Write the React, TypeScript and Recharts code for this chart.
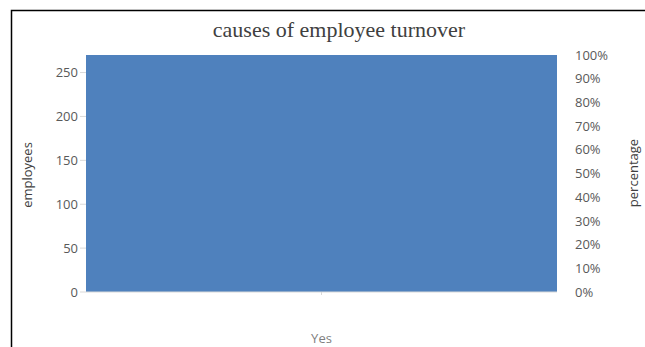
import { Bar, ComposedChart, Scatter, XAxis, YAxis } from "recharts";

const categories = ["Yes"];
const employees = [270];
const percentage = [1];
const leftTicks = [0, 50, 100, 150, 200, 250];
const rightTicks = [0, 0.1, 0.2, 0.3, 0.4, 0.5, 0.6, 0.7, 0.8, 0.9, 1];

const data = categories.map((name, i) => ({
  name,
  employees: employees[i],
  percentage: percentage[i],
}));

const tickStyle = { fill: "#595959", fontSize: 13, fontFamily: "Open Sans, sans-serif" };

export default function App() {
  return (
    <div style={{ position: "absolute", left: 0, top: 0, width: 645, height: 347, background: "#fff" }}>
      <ComposedChart
        width={645}
        height={347}
        data={data}
        margin={{ top: 55, right: 28, bottom: 0, left: 36 }}
        barCategoryGap={0}
      >
        <XAxis
          dataKey="name"
          height={55}
          axisLine={{ stroke: "#d9d9d9" }}
          tickLine={{ stroke: "#d9d9d9" }}
          tickSize={3}
          tick={{ ...tickStyle, fill: "#7f7f7f" }}
          dy={37}
        />
        <YAxis
          yAxisId="left"
          domain={[0, 270]}
          ticks={leftTicks}
          width={50}
          axisLine={false}
          tickLine={{ stroke: "#d9d9d9" }}
          tickSize={6}
          tick={tickStyle}
          interval={0}
        />
        <YAxis
          yAxisId="right"
          orientation="right"
          domain={[0, 1]}
          ticks={rightTicks}
          width={60}
          axisLine={false}
          tickLine={false}
          tick={{ ...tickStyle, textAnchor: "start" }}
          tickMargin={12}
          interval={0}
          tickFormatter={(v) => `${Math.round(Number(v) * 100)}%`}
        />
        <Bar yAxisId="left" dataKey="employees" fill="#4f81bd" isAnimationActive={false} />
        <Scatter
          yAxisId="right"
          dataKey="percentage"
          shape={() => <g />}
          legendType="none"
          isAnimationActive={false}
        />
      </ComposedChart>
      <svg
        width={645}
        height={347}
        style={{ position: "absolute", left: 0, top: 0, pointerEvents: "none" }}
      >
        <path d="M11.5 347 V10.5 H645" fill="none" stroke="#000" strokeWidth={1.5} />
        <text
          x={339}
          y={37}
          textAnchor="middle"
          fontFamily="Liberation Serif, serif"
          fontSize={22}
          fill="#404040"
        >
          causes of employee turnover
        </text>
        <text
          transform="translate(32 175) rotate(-90)"
          textAnchor="middle"
          fontFamily="Open Sans, sans-serif"
          fontSize={13}
          fill="#404040"
        >
          employees
        </text>
        <text
          transform="translate(638 173) rotate(-90)"
          textAnchor="middle"
          fontFamily="Open Sans, sans-serif"
          fontSize={13}
          fill="#404040"
        >
          percentage
        </text>
      </svg>
    </div>
  );
}
